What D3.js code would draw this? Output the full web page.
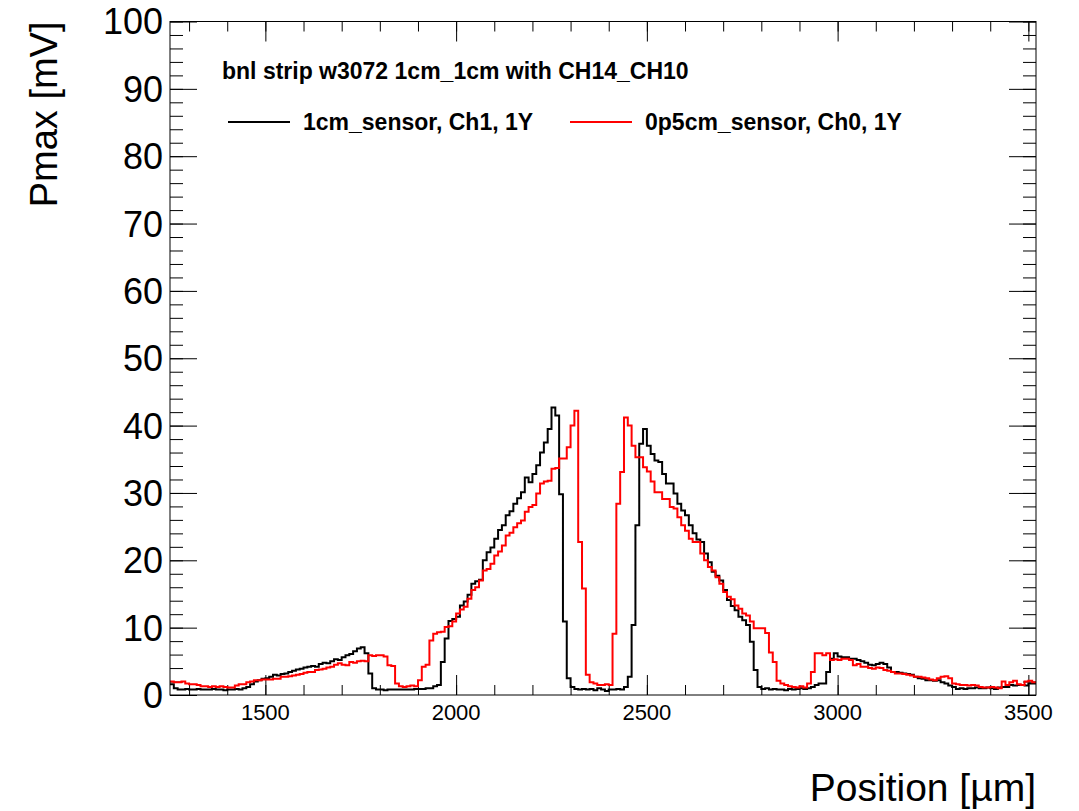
<!DOCTYPE html>
<html>
<head>
<meta charset="utf-8">
<script src="https://cdn.jsdelivr.net/npm/d3@7"></script>
<style>
  html, body { margin: 0; padding: 0; background: #fff; }
  svg { display: block; font-family: "Liberation Sans", Arial, Helvetica, sans-serif; }
</style>
</head>
<body>
<div id="chart"></div>
<script>
// Pmax vs position, two sensors, 10 um bins from 1250 um

const binStart = 1250;
const binWidth = 10;

// 1cm_sensor, Ch1, 1Y (black)
const pmaxCh1 = [
  1.6, 1.0, 0.8, 0.8, 0.9, 0.8, 0.8, 0.9, 0.8, 0.8,
  0.8, 0.9, 0.8, 0.8, 0.7, 0.8, 0.8, 0.9, 0.8, 1.0,
  1.2, 1.6, 2.0, 2.2, 2.4, 2.5, 2.7, 3.0, 2.9, 3.1,
  3.2, 3.4, 3.6, 3.8, 3.9, 4.1, 4.2, 4.3, 4.2, 4.6,
  4.8, 4.7, 5.0, 5.3, 5.2, 5.6, 5.9, 6.1, 6.5, 6.9,
  7.1, 6.2, 3.2, 1.0, 0.8, 0.8, 0.7, 0.8, 0.8, 0.8,
  0.8, 0.8, 0.8, 0.8, 0.9, 0.9, 0.9, 1.0, 1.0, 1.3,
  1.5, 4.9, 8.4, 11.0, 11.3, 11.6, 13.3, 13.9, 14.9, 16.5,
  16.9, 17.1, 20.0, 21.2, 21.9, 23.2, 24.5, 25.2, 26.7, 27.3,
  28.4, 29.2, 30.1, 32.3, 31.6, 32.8, 34.1, 36.0, 37.5, 39.5,
  42.7, 41.5, 29.8, 10.9, 2.5, 1.2, 0.9, 0.8, 0.9, 0.8,
  0.9, 0.7, 1.0, 0.8, 0.6, 0.8, 0.8, 0.9, 0.8, 1.2,
  2.7, 10.4, 25.2, 37.3, 39.5, 37.0, 35.8, 34.8, 34.6, 32.8,
  31.4, 31.4, 29.9, 28.4, 27.4, 26.7, 25.2, 24.0, 23.1, 22.7,
  21.0, 19.7, 18.3, 17.7, 17.0, 15.6, 14.1, 13.2, 12.6, 11.6,
  11.1, 10.4, 7.9, 3.7, 1.2, 0.9, 1.0, 0.8, 0.9, 0.8,
  0.8, 0.7, 0.9, 0.8, 0.9, 1.0, 0.9, 1.0, 1.2, 1.5,
  1.7, 1.7, 3.4, 5.4, 6.2, 5.7, 5.6, 5.6, 5.4, 5.4,
  5.2, 5.0, 4.8, 4.5, 4.4, 4.6, 4.8, 4.6, 4.1, 3.4,
  3.4, 3.3, 3.2, 3.1, 3.0, 2.7, 2.5, 2.4, 2.2, 2.2,
  2.1, 2.2, 1.9, 1.7, 1.4, 1.2, 0.9, 1.0, 0.9, 1.0,
  1.0, 1.1, 1.0, 1.0, 1.1, 1.0, 0.9, 1.1, 1.2, 1.2,
  1.5, 1.4, 1.5, 1.5, 1.4, 1.7, 1.7
];

// 0p5cm_sensor, Ch0, 1Y (red)
const pmaxCh0 = [
  2.0, 1.9, 1.9, 2.0, 1.7, 1.6, 1.6, 1.5, 1.3, 1.3,
  1.2, 1.3, 1.2, 1.3, 1.2, 1.1, 1.1, 1.4, 1.6, 1.6,
  1.9, 2.0, 2.2, 2.2, 2.3, 2.3, 2.3, 2.4, 2.4, 2.7,
  2.7, 2.8, 2.9, 3.0, 3.1, 3.3, 3.4, 3.4, 3.7, 3.8,
  3.9, 4.1, 4.2, 4.5, 4.7, 4.5, 4.4, 4.9, 4.8, 5.0,
  5.1, 5.0, 5.9, 5.8, 5.9, 5.9, 5.7, 4.4, 4.3, 1.7,
  1.3, 1.2, 1.3, 1.4, 1.3, 2.2, 4.2, 4.5, 8.1, 9.1,
  9.3, 9.4, 10.1, 10.2, 10.9, 12.1, 12.7, 13.1, 14.3, 15.6,
  16.0, 17.0, 18.5, 18.7, 19.5, 20.7, 21.3, 22.2, 23.7, 24.1,
  24.9, 25.5, 25.9, 27.2, 27.9, 28.2, 29.9, 31.4, 31.7, 31.8,
  33.6, 33.7, 35.1, 35.1, 36.8, 40.0, 42.2, 22.7, 15.8, 3.0,
  1.9, 1.7, 1.5, 1.5, 1.6, 1.5, 9.1, 28.4, 33.1, 41.2,
  40.0, 37.0, 35.3, 35.3, 33.8, 33.2, 31.7, 30.1, 30.1, 29.1,
  29.1, 27.9, 27.7, 26.4, 25.2, 24.4, 23.2, 22.7, 22.7, 21.0,
  20.0, 19.0, 18.5, 17.5, 16.5, 15.3, 14.6, 14.2, 13.3, 12.8,
  12.1, 11.8, 10.9, 9.9, 9.9, 9.9, 9.2, 6.3, 4.9, 2.1,
  1.7, 1.5, 1.3, 1.2, 1.1, 1.3, 1.1, 1.7, 3.4, 6.2,
  6.2, 5.9, 6.2, 5.2, 5.3, 5.2, 5.4, 5.4, 5.2, 4.4,
  4.6, 4.2, 4.2, 4.0, 3.9, 4.1, 4.0, 3.7, 3.6, 3.4,
  3.2, 3.2, 3.1, 3.0, 2.9, 2.7, 2.7, 2.6, 2.5, 2.3,
  2.2, 2.5, 2.7, 2.8, 2.5, 1.7, 1.6, 1.5, 1.5, 1.4,
  1.5, 1.4, 1.2, 1.1, 1.1, 1.2, 1.1, 1.0, 2.0, 1.5,
  1.9, 2.1, 1.6, 1.5, 2.0, 2.1, 1.9
];

const seriesNames = ["1cm_sensor, Ch1, 1Y", "0p5cm_sensor, Ch0, 1Y"];
const seriesColors = ["#000000", "#ff0000"];
const xMajorTicks = [1500, 2000, 2500, 3000, 3500];
const yMajorTicks = [0, 10, 20, 30, 40, 50, 60, 70, 80, 90, 100];

const width = 1079;
const height = 811;
const margin = { top: 21.5, right: 43, bottom: 116, left: 170 };
const iw = width - margin.left - margin.right;
const ih = height - margin.top - margin.bottom;

const svg = d3.select("#chart")
  .append("svg")
  .attr("width", width)
  .attr("height", height);

const x = d3.scaleLinear()
  .domain([1250, 3520])
  .range([margin.left, margin.left + iw]);

const y = d3.scaleLinear()
  .domain([0, 100])
  .range([margin.top + ih, margin.top]);

const xMinor = d3.range(1300, 3520, 100);
const yMinor = d3.range(0, 101, 2);

// --- TICKS (ROOT style, inside, all four sides) ---
function ticksOnly(axis) {
  return g => {
    g.call(axis);
    g.select(".domain").remove();
    g.selectAll("line").attr("stroke", "#000").attr("stroke-width", 1);
  };
}

svg.append("g")
  .attr("transform", `translate(0,${margin.top + ih})`)
  .call(ticksOnly(d3.axisBottom(x).tickValues(xMinor).tickSize(-10).tickFormat("")));
svg.append("g")
  .attr("transform", `translate(0,${margin.top + ih})`)
  .call(ticksOnly(d3.axisBottom(x).tickValues(xMajorTicks).tickSize(-20).tickFormat("")));
svg.append("g")
  .attr("transform", `translate(0,${margin.top})`)
  .call(ticksOnly(d3.axisTop(x).tickValues(xMinor).tickSize(-10).tickFormat("")));
svg.append("g")
  .attr("transform", `translate(0,${margin.top})`)
  .call(ticksOnly(d3.axisTop(x).tickValues(xMajorTicks).tickSize(-20).tickFormat("")));

svg.append("g")
  .attr("transform", `translate(${margin.left},0)`)
  .call(ticksOnly(d3.axisLeft(y).tickValues(yMinor).tickSize(-13).tickFormat("")));
svg.append("g")
  .attr("transform", `translate(${margin.left},0)`)
  .call(ticksOnly(d3.axisLeft(y).tickValues(yMajorTicks).tickSize(-27).tickFormat("")));
svg.append("g")
  .attr("transform", `translate(${margin.left + iw},0)`)
  .call(ticksOnly(d3.axisRight(y).tickValues(yMinor).tickSize(-13).tickFormat("")));
svg.append("g")
  .attr("transform", `translate(${margin.left + iw},0)`)
  .call(ticksOnly(d3.axisRight(y).tickValues(yMajorTicks).tickSize(-27).tickFormat("")));

// tick labels
svg.append("g")
  .selectAll("text")
  .data(xMajorTicks)
  .join("text")
  .attr("x", d => x(d))
  .attr("y", margin.top + ih + 25)
  .attr("text-anchor", "middle")
  .style("font-size", "22px")
  .text(d => d);

svg.append("g")
  .selectAll("text")
  .data(yMajorTicks)
  .join("text")
  .attr("x", margin.left - 7)
  .attr("y", d => y(d))
  .attr("dy", "0.36em")
  .attr("text-anchor", "end")
  .style("font-size", "36px")
  .text(d => d);

// axis titles
svg.append("text")
  .attr("x", margin.left + iw)
  .attr("y", 801)
  .attr("text-anchor", "end")
  .style("font-size", "39px")
  .text("Position [µm]");

svg.append("text")
  .attr("transform", `translate(57,${margin.top}) rotate(-90)`)
  .attr("text-anchor", "end")
  .style("font-size", "38px")
  .text("Pmax [mV]");

// --- HISTOGRAMS ---
svg.append("clipPath")
  .attr("id", "frame-clip")
  .append("rect")
  .attr("x", margin.left)
  .attr("y", margin.top)
  .attr("width", iw)
  .attr("height", ih);

const step = d3.line()
  .x(d => x(d[0]))
  .y(d => y(d[1]))
  .curve(d3.curveStepAfter);

function toSteps(values) {
  const pts = values.map((v, i) => [binStart + i * binWidth, v]);
  pts.push([binStart + values.length * binWidth, values[values.length - 1]]);
  return pts;
}

[pmaxCh1, pmaxCh0].forEach((vals, i) => {
  svg.append("path")
    .attr("clip-path", "url(#frame-clip)")
    .attr("d", step(toSteps(vals)))
    .attr("fill", "none")
    .attr("stroke", seriesColors[i])
    .attr("stroke-width", 2);
});

// frame
svg.append("rect")
  .attr("x", margin.left)
  .attr("y", margin.top)
  .attr("width", iw)
  .attr("height", ih)
  .attr("fill", "none")
  .attr("stroke", "#000")
  .attr("stroke-width", 1);

// --- TITLE + LEGEND ---
svg.append("text")
  .attr("x", 222)
  .attr("y", 79)
  .style("font-size", "23px")
  .style("font-weight", "bold")
  .text("bnl strip w3072 1cm_1cm with CH14_CH10");

const legendX = [228, 570];
const legend = svg.append("g")
  .selectAll("g")
  .data(seriesNames)
  .join("g")
  .attr("transform", (d, i) => `translate(${legendX[i]},122)`);

legend.append("line")
  .attr("x1", 0)
  .attr("x2", 62)
  .attr("stroke", (d, i) => seriesColors[i])
  .attr("stroke-width", 2);

legend.append("text")
  .attr("x", 75)
  .attr("y", 8)
  .style("font-size", "23px")
  .style("font-weight", "bold")
  .text(d => d);
</script>
</body>
</html>
